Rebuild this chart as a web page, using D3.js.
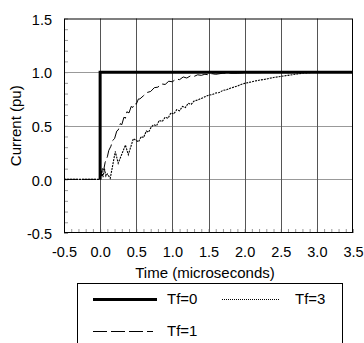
<!DOCTYPE html>
<html>
<head>
<meta charset="utf-8">
<script src="https://cdn.jsdelivr.net/npm/d3@7"></script>
<style>
  html, body { margin: 0; padding: 0; background: #fff; }
  svg { display: block; font-family: "Liberation Sans", Arial, sans-serif; }
</style>
</head>
<body>
<div id="chart"></div>
<script>
// ─── DATA ───
const xTicks = [-0.5, 0.0, 0.5, 1.0, 1.5, 2.0, 2.5, 3.0, 3.5];
const yTicks = [-0.5, 0.0, 0.5, 1.0, 1.5];

// Tf=0 : ideal step
const timeTf0 = [0, 0, 3.5];
const currentTf0 = [0, 1, 1];

// Tf=1 : dashed
const timeTf1 = [-0.5, 0, 0.01, 0.02, 0.03, 0.05, 0.07, 0.10, 0.12, 0.15, 0.17, 0.20, 0.23, 0.25, 0.28, 0.30,
  0.33, 0.35, 0.37, 0.40, 0.43, 0.45, 0.48, 0.50, 0.53, 0.55, 0.60, 0.65, 0.70, 0.75, 0.80, 0.85, 0.90,
  0.95, 1.00, 1.05, 1.10, 1.15, 1.20, 1.25, 1.30, 1.35, 1.40, 1.45, 1.50, 1.55, 1.60, 1.70, 1.80, 1.90,
  2.00, 2.20, 2.40, 2.60, 2.80, 3.00, 3.20, 3.30, 3.40, 3.50];
const currentTf1 = [0, 0, 0.08, 0.03, 0.10, 0.09, 0.16, 0.21, 0.27, 0.31, 0.36, 0.38, 0.45, 0.46, 0.52, 0.51,
  0.58, 0.57, 0.63, 0.62, 0.68, 0.67, 0.71, 0.70, 0.75, 0.75, 0.78, 0.81, 0.82, 0.855, 0.86, 0.89, 0.885,
  0.915, 0.91, 0.935, 0.93, 0.955, 0.945, 0.965, 0.96, 0.975, 0.97, 0.98, 0.975, 0.985, 0.98, 0.99, 0.99, 0.99,
  0.995, 0.995, 1.0, 0.995, 1.0, 1.0, 1.0, 1.005, 1.0, 1.005];

// Tf=3 : dotted
const timeTf3 = [-0.5, 0, 0.02, 0.04, 0.06, 0.08, 0.10, 0.14, 0.21, 0.25, 0.35, 0.39, 0.46, 0.53, 0.57, 0.60,
  0.64, 0.67, 0.71, 0.74, 0.78, 0.82, 0.86, 0.90, 0.94, 0.98, 1.02, 1.06, 1.10, 1.14, 1.18, 1.22, 1.26,
  1.30, 1.35, 1.40, 1.45, 1.50, 1.55, 1.60, 1.65, 1.70, 1.75, 1.80, 1.85, 1.90, 1.95, 2.00, 2.10, 2.20,
  2.30, 2.40, 2.50, 2.60, 2.70, 2.80, 2.90, 3.00, 3.20, 3.40, 3.50];
const currentTf3 = [0, 0, 0.08, 0.02, 0.10, 0.03, 0.05, 0.01, 0.26, 0.15, 0.32, 0.23, 0.38, 0.35, 0.40, 0.39,
  0.45, 0.44, 0.49, 0.51, 0.50, 0.55, 0.54, 0.58, 0.57, 0.62, 0.61, 0.65, 0.64, 0.68, 0.67, 0.71, 0.70,
  0.73, 0.74, 0.755, 0.77, 0.785, 0.79, 0.805, 0.81, 0.83, 0.835, 0.85, 0.86, 0.87, 0.885, 0.895, 0.91, 0.925,
  0.935, 0.95, 0.96, 0.97, 0.98, 0.99, 0.995, 1.0, 1.0, 1.0, 1.0];

const series = [
  { name: "Tf=0", t: timeTf0, v: currentTf0, width: 3, dash: null, legendDash: null },
  { name: "Tf=1", t: timeTf1, v: currentTf1, width: 1, dash: "14,4", legendDash: "14,4" },
  { name: "Tf=3", t: timeTf3, v: currentTf3, width: 1.1, dash: "2,1", legendDash: "1,1" }
];

// ─── CHART ───
const width = 364, height = 343;
const margin = { top: 18.5, right: 11, bottom: 110, left: 64 };
const fontFamily = "'Liberation Sans', Arial, sans-serif";
const fmt = d => d.toFixed(1); // plain hyphen minus, as in the original

const svg = d3.select("#chart").append("svg")
  .attr("width", width)
  .attr("height", height);

const x = d3.scaleLinear()
  .domain([-0.5, 3.5])
  .range([margin.left, width - margin.right]);

const y = d3.scaleLinear()
  .domain([-0.5, 1.5])
  .range([height - margin.bottom, margin.top]);

const plotBottom = height - margin.bottom;

// minor ticks (0.1 steps) inside the plot
const minorX = d3.range(-5, 36).map(d => d / 10);
const minorY = d3.range(-5, 16).map(d => d / 10);

svg.append("g")
  .attr("transform", `translate(0,${plotBottom})`)
  .call(d3.axisBottom(x).tickValues(minorX).tickSize(-4).tickFormat(""))
  .call(g => g.select(".domain").remove())
  .call(g => g.selectAll(".tick line").attr("stroke", "#999"));

svg.append("g")
  .attr("transform", `translate(${margin.left},0)`)
  .call(d3.axisLeft(y).tickValues(minorY).tickSize(-4).tickFormat(""))
  .call(g => g.select(".domain").remove())
  .call(g => g.selectAll(".tick line").attr("stroke", "#999"));

// horizontal grid
svg.append("g")
  .selectAll("line")
  .data(yTicks.slice(1, -1))
  .enter().append("line")
  .attr("x1", x(-0.5)).attr("x2", x(3.5))
  .attr("y1", d => Math.round(y(d)) + 0.5).attr("y2", d => Math.round(y(d)) + 0.5)
  .attr("stroke", "#999");

// vertical grid
svg.append("g")
  .selectAll("line")
  .data(xTicks.slice(1, -1))
  .enter().append("line")
  .attr("x1", d => Math.round(x(d)) + 0.5).attr("x2", d => Math.round(x(d)) + 0.5)
  .attr("y1", y(1.5)).attr("y2", y(-0.5))
  .attr("stroke", "#555");

// tick labels
svg.append("g")
  .attr("transform", `translate(0,${plotBottom})`)
  .call(d3.axisBottom(x).tickValues(xTicks).tickSize(0).tickPadding(14).tickFormat(fmt))
  .call(g => g.select(".domain").remove())
  .call(g => g.selectAll("text").attr("font-size", "14.5px").attr("fill", "#000")
    .attr("font-family", fontFamily));

svg.append("g")
  .attr("transform", `translate(${margin.left},1)`)
  .call(d3.axisLeft(y).tickValues(yTicks).tickSize(0).tickPadding(12).tickFormat(fmt))
  .call(g => g.select(".domain").remove())
  .call(g => g.selectAll("text").attr("font-size", "14.5px").attr("fill", "#000")
    .attr("font-family", fontFamily));

// curves
const line = d3.line()
  .x(d => x(d[0]))
  .y(d => y(d[1]));

svg.append("defs").append("clipPath").attr("id", "plot-clip")
  .append("rect")
  .attr("x", x(-0.5)).attr("y", y(1.5))
  .attr("width", x(3.5) - x(-0.5)).attr("height", y(-0.5) - y(1.5));

svg.append("g")
  .attr("clip-path", "url(#plot-clip)")
  .selectAll("path")
  .data(series.slice().reverse())
  .enter().append("path")
  .attr("d", s => line(d3.zip(s.t, s.v)))
  .attr("fill", "none")
  .attr("stroke", "#000")
  .attr("stroke-width", s => s.width)
  .attr("stroke-dasharray", s => s.dash);

// frame
svg.append("rect")
  .attr("x", x(-0.5) + 0.5).attr("y", y(1.5) + 0.5)
  .attr("width", x(3.5) - x(-0.5) - 1).attr("height", y(-0.5) - y(1.5) - 1)
  .attr("fill", "none")
  .attr("stroke", "#000");

// axis titles
svg.append("text")
  .attr("x", 205).attr("y", 278)
  .attr("text-anchor", "middle")
  .attr("font-size", "15px")
  .text("Time (microseconds)");

svg.append("text")
  .attr("transform", `translate(21,${(y(1.5) + y(-0.5)) / 2}) rotate(-90)`)
  .attr("text-anchor", "middle")
  .attr("font-size", "15px")
  .text("Current (pu)");

// legend
const legend = svg.append("g");
legend.append("rect")
  .attr("x", 77.5).attr("y", 283.5)
  .attr("width", 265).attr("height", 80)
  .attr("fill", "#fff")
  .attr("stroke", "#000");

const legendPos = [
  { s: series[0], x: 93, y: 299, lw: 64, tx: 167 },
  { s: series[2], x: 222, y: 299, lw: 58, tx: 295 },
  { s: series[1], x: 93, y: 331, lw: 60, tx: 167 }
];

legendPos.forEach(p => {
  legend.append("line")
    .attr("x1", p.x).attr("x2", p.x + p.lw)
    .attr("y1", p.y + 0.5).attr("y2", p.y + 0.5)
    .attr("stroke", "#000")
    .attr("stroke-width", p.s.width > 2 ? p.s.width : 1)
    .attr("stroke-dasharray", p.s.legendDash);
  legend.append("text")
    .attr("x", p.tx).attr("y", p.y + 5)
    .attr("font-size", "15px")
    .text(p.s.name);
});
</script>
</body>
</html>
